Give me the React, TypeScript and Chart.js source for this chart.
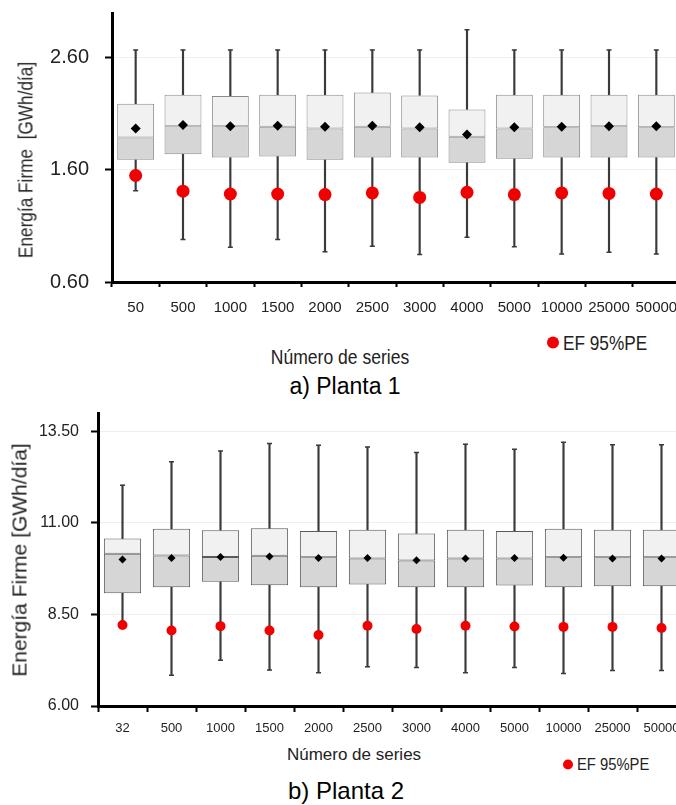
import React, { useEffect, useRef } from 'react';
import { Chart, registerables } from 'chart.js';

Chart.register(...registerables);

// ---------- Panel a) Planta 1 ----------
const categories1 = ['50', '500', '1000', '1500', '2000', '2500', '3000', '4000', '5000', '10000', '25000', '50000'];
const max1 = [2.67, 2.67, 2.67, 2.67, 2.67, 2.67, 2.67, 2.85, 2.67, 2.67, 2.67, 2.67];
const q3_1 = [2.19, 2.27, 2.26, 2.27, 2.27, 2.29, 2.265, 2.14, 2.27, 2.27, 2.27, 2.27];
const median1 = [1.89, 1.99, 1.99, 1.985, 1.97, 1.985, 1.97, 1.895, 1.97, 1.98, 1.99, 1.98];
const q1_1 = [1.69, 1.74, 1.71, 1.72, 1.69, 1.71, 1.71, 1.665, 1.7, 1.71, 1.71, 1.71];
const min1 = [1.415, 0.98, 0.91, 0.98, 0.87, 0.92, 0.845, 1.0, 0.915, 0.85, 0.865, 0.85];
const mean1 = [1.97, 2.0, 1.99, 1.995, 1.985, 1.995, 1.98, 1.915, 1.98, 1.985, 1.99, 1.99];
const ef1 = [1.55, 1.41, 1.385, 1.385, 1.38, 1.395, 1.355, 1.4, 1.38, 1.395, 1.39, 1.385];
const yTicks1 = [0.6, 1.6, 2.6];
const yTickLabels1 = ['0.60', '1.60', '2.60'];

// ---------- Panel b) Planta 2 ----------
const categories2 = ['32', '500', '1000', '1500', '2000', '2500', '3000', '4000', '5000', '10000', '25000', '50000'];
const max2 = [12.03, 12.67, 12.96, 13.17, 13.12, 13.07, 12.92, 13.15, 13.01, 13.2, 13.13, 13.13];
const q3_2 = [10.57, 10.84, 10.8, 10.85, 10.78, 10.81, 10.71, 10.81, 10.78, 10.84, 10.81, 10.81];
const median2 = [10.16, 10.11, 10.07, 10.1, 10.06, 10.03, 9.97, 10.03, 10.03, 10.06, 10.06, 10.06];
const q1_2 = [9.08, 9.24, 9.39, 9.3, 9.24, 9.32, 9.24, 9.24, 9.29, 9.24, 9.27, 9.27];
const min2 = [8.25, 6.84, 7.25, 6.98, 6.91, 7.07, 7.05, 6.91, 7.05, 6.89, 6.97, 6.97];
const mean2 = [10.0, 10.04, 10.07, 10.08, 10.04, 10.04, 9.98, 10.03, 10.04, 10.05, 10.03, 10.03];
const ef2 = [8.21, 8.06, 8.18, 8.06, 7.94, 8.19, 8.1, 8.19, 8.17, 8.16, 8.16, 8.13];
const yTicks2 = [6, 8.5, 11, 13.5];
const yTickLabels2 = ['6.00', '8.50', '11.00', '13.50'];

const SANS = "'Liberation Sans', Arial, sans-serif";

type Panel = {
  labels: string[];
  min: number[];
  q1: number[];
  median: number[];
  q3: number[];
  max: number[];
  mean: number[];
  ef: number[];
  yMin: number;
  yMax: number;
  yTicks: number[];
  yTickLabels: string[];
  width: number;
  height: number;
  area: { left: number; top: number; right: number; bottom: number };
  xFontSize: number;
  yFontSize: number;
  xPad: number;
  yPad: number;
  xTickLen: number;
  boxPct: number;
  boxBorder: string;
  efRadius: number;
  meanRadius: number;
};

const panel1: Panel = {
  labels: categories1, min: min1, q1: q1_1, median: median1, q3: q3_1, max: max1, mean: mean1, ef: ef1,
  yMin: 0.6, yMax: 3.0, yTicks: yTicks1, yTickLabels: yTickLabels1,
  width: 692, height: 330, area: { left: 112, top: 13, right: 680, bottom: 282 },
  xFontSize: 15, yFontSize: 20, xPad: 12, yPad: 16, xTickLen: 5, boxPct: 0.78, boxBorder: '#8a8a8a',
  efRadius: 6.5, meanRadius: 5,
};

const panel2: Panel = {
  labels: categories2, min: min2, q1: q1_2, median: median2, q3: q3_2, max: max2, mean: mean2, ef: ef2,
  yMin: 6, yMax: 14, yTicks: yTicks2, yTickLabels: yTickLabels2,
  width: 698, height: 340, area: { left: 98, top: 13, right: 686, bottom: 306 },
  xFontSize: 13, yFontSize: 16, xPad: 9, yPad: 12, xTickLen: 6, boxPct: 0.76, boxBorder: '#5a5a5a',
  efRadius: 5, meanRadius: 4,
};

function buildConfig(p: Panel): any {
  const whisker = '#3a3a3a';
  return {
    type: 'bar',
    data: {
      labels: p.labels,
      datasets: [
        {
          type: 'line', label: 'EF 95%PE', data: p.ef, showLine: false, pointStyle: 'circle',
          pointRadius: p.efRadius, pointBackgroundColor: '#f20000', pointBorderColor: '#f20000', pointBorderWidth: 0, order: 0,
        },
        {
          type: 'line', label: 'Media', data: p.mean, showLine: false, pointStyle: 'rectRot',
          pointRadius: p.meanRadius, pointBackgroundColor: '#000', pointBorderColor: '#000', pointBorderWidth: 0, order: 1,
        },
        {
          type: 'line', label: 'Máximo', data: p.max, showLine: false, pointStyle: 'line',
          pointRadius: 2.5, pointBorderColor: whisker, pointBorderWidth: 1.5, order: 2,
        },
        {
          type: 'line', label: 'Mínimo', data: p.min, showLine: false, pointStyle: 'line',
          pointRadius: 2.5, pointBorderColor: whisker, pointBorderWidth: 1.5, order: 2,
        },
        {
          type: 'bar', label: 'Q3', data: p.median.map((m, i) => [m, p.q3[i]]),
          backgroundColor: '#f1f1f1', borderColor: p.boxBorder, borderWidth: 1, borderSkipped: false,
          barPercentage: p.boxPct, categoryPercentage: 1, grouped: false, order: 3,
        },
        {
          type: 'bar', label: 'Q1', data: p.q1.map((q, i) => [q, p.median[i]]),
          backgroundColor: '#d6d6d6', borderColor: p.boxBorder, borderWidth: 1, borderSkipped: false,
          barPercentage: p.boxPct, categoryPercentage: 1, grouped: false, order: 3,
        },
        {
          type: 'bar', label: 'Bigote sup', data: p.q3.map((q, i) => [q, p.max[i]]),
          backgroundColor: whisker, borderWidth: 0, barThickness: 1.5, grouped: false, order: 4,
        },
        {
          type: 'bar', label: 'Bigote inf', data: p.min.map((m, i) => [m, p.q1[i]]),
          backgroundColor: whisker, borderWidth: 0, barThickness: 1.5, grouped: false, order: 4,
        },
      ],
    },
    options: {
      responsive: false,
      animation: false,
      devicePixelRatio: 1,
      layout: { padding: { top: p.area.top, right: p.width - p.area.right, left: 0, bottom: 0 } },
      plugins: { legend: { display: false }, tooltip: { enabled: false }, title: { display: false } },
      scales: {
        x: {
          type: 'category',
          offset: true,
          grid: { offset: true, drawOnChartArea: false, drawTicks: true, tickLength: p.xTickLen, tickWidth: 2, tickColor: '#000' },
          border: { display: true, color: '#000', width: 3 },
          ticks: { color: '#222', font: { family: SANS, size: p.xFontSize }, padding: p.xPad, maxRotation: 0, minRotation: 0, autoSkip: false },
          afterFit: (s: any) => {
            s.height = p.height - p.area.bottom;
            s.paddingLeft = 0;
            s.paddingRight = 0;
          },
        },
        y: {
          type: 'linear',
          min: p.yMin,
          max: p.yMax,
          grid: { color: '#efefef', lineWidth: 1, drawTicks: true, tickLength: 7, tickWidth: 2, tickColor: '#000' },
          border: { display: true, color: '#000', width: 3 },
          ticks: {
            color: '#222', font: { family: SANS, size: p.yFontSize }, padding: p.yPad,
            callback: (_v: any, i: number) => p.yTickLabels[i],
          },
          afterBuildTicks: (s: any) => {
            s.ticks = p.yTicks.map((v) => ({ value: v }));
          },
          afterFit: (s: any) => {
            s.width = p.area.left;
            s.paddingTop = 0;
            s.paddingBottom = 0;
          },
        },
      },
    },
  };
}

function ChartCanvas({ panel, top }: { panel: Panel; top: number }) {
  const ref = useRef<HTMLCanvasElement | null>(null);
  useEffect(() => {
    if (!ref.current) return;
    const chart = new Chart(ref.current, buildConfig(panel));
    return () => chart.destroy();
  }, [panel]);
  return (
    <canvas
      ref={ref}
      width={panel.width}
      height={panel.height}
      style={{ position: 'absolute', left: 0, top, width: panel.width, height: panel.height }}
    />
  );
}

function Label({ x, y, text, size, rotate, squeeze, color }: { x: number; y: number; text: string; size: number; rotate?: boolean; squeeze?: number; color?: string }) {
  const sq = squeeze ?? 1;
  return (
    <div
      style={{
        position: 'absolute', left: x, top: y, fontFamily: SANS, fontSize: size, lineHeight: 1,
        color: color || '#222', whiteSpace: 'pre',
        transform: `translate(-50%, -50%)${rotate ? ' rotate(-90deg)' : ''} scaleX(${sq})`,
      }}
    >
      {text}
    </div>
  );
}

function Legend({ x, y, dot, size, squeeze, text }: { x: number; y: number; dot: number; size: number; squeeze: number; text: string }) {
  return (
    <div style={{ position: 'absolute', left: x, top: y, transform: 'translateY(-50%)', display: 'flex', alignItems: 'center', fontFamily: SANS, fontSize: size, lineHeight: 1, color: '#222', whiteSpace: 'nowrap' }}>
      <span style={{ display: 'inline-block', width: dot, height: dot, borderRadius: '50%', background: '#f20000', marginRight: 4, flex: 'none' }} />
      <span style={{ display: 'inline-block', transform: `scaleX(${squeeze})`, transformOrigin: 'left center' }}>{text}</span>
    </div>
  );
}

export default function App() {
  return (
    <div style={{ position: 'fixed', left: 0, top: 0, width: 676, height: 805, overflow: 'hidden', background: '#fff' }}>
      <ChartCanvas panel={panel1} top={0} />
      <Label x={25} y={160} text={'Energía Firme  [GWh/día]'} size={21} rotate squeeze={0.82} />
      <Label x={340} y={356} text="Número de series" size={21} squeeze={0.835} />
      <Legend x={547} y={342} dot={12} size={21} squeeze={0.82} text="EF 95%PE" />
      <Label x={345} y={386} text="a) Planta 1" size={23} color="#000" />

      <ChartCanvas panel={panel2} top={400} />
      <Label x={19} y={560} text="Energía Firme [GWh/día]" size={21} rotate />
      <Label x={354} y={754} text="Número de series" size={17} />
      <Legend x={563} y={764} dot={10} size={17} squeeze={0.87} text="EF 95%PE" />
      <Label x={346} y={791} text="b) Planta 2" size={24} color="#000" />
    </div>
  );
}
